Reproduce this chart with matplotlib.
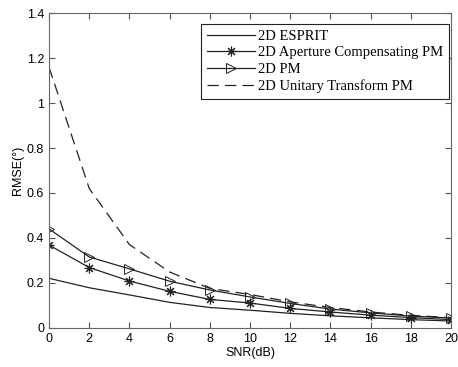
import matplotlib
matplotlib.use("Agg")
import matplotlib.pyplot as plt
import numpy as np

snr = np.arange(0, 21, 2)
esprit = [0.22, 0.178, 0.146, 0.113, 0.09, 0.078, 0.064, 0.053, 0.044, 0.036, 0.03]
apc_pm = [0.368, 0.268, 0.208, 0.162, 0.126, 0.11, 0.086, 0.07, 0.056, 0.045, 0.036]
pm_2d = [0.44, 0.315, 0.262, 0.207, 0.168, 0.137, 0.108, 0.083, 0.066, 0.052, 0.043]
utpm = [1.16, 0.62, 0.37, 0.248, 0.175, 0.148, 0.115, 0.09, 0.07, 0.055, 0.045]
labels = ["2D ESPRIT", "2D Aperture Compensating PM", "2D PM", "2D Unitary Transform PM"]

plt.rcParams['font.family'] = 'Liberation Sans'

fig = plt.figure(figsize=(4.58, 3.67), dpi=100)
ax = fig.add_axes([0.107, 0.107, 0.878, 0.857])

lc = '#222222'
ax.plot(snr, esprit, color=lc, lw=0.9, label=labels[0])
ax.plot(snr, apc_pm, color=lc, lw=0.9, marker=(8, 2, 0), ms=7, mew=0.8, label=labels[1])
ax.plot(snr, pm_2d, color=lc, lw=0.9, marker='>', ms=7, mfc='none', mew=0.7, label=labels[2])
ax.plot(snr, utpm, color=lc, lw=0.9, ls=(0, (9, 5)), label=labels[3])

ax.set_xlim(0, 20)
ax.set_ylim(0, 1.4)
ax.set_xticks(snr)
ax.set_yticks(np.arange(0, 1.41, 0.2))
ax.set_yticklabels(["0", "0.2", "0.4", "0.6", "0.8", "1", "1.2", "1.4"])
ax.tick_params(direction='in', top=True, right=True, labelsize=9, length=4, color='#555555')
for s in ax.spines.values():
    s.set_color('#666666')
ax.set_xlabel("SNR(dB)", fontsize=9, labelpad=2)
ax.set_ylabel("RMSE(°)", fontsize=9, labelpad=2)

leg = ax.legend(loc='upper right', bbox_to_anchor=(0.995, 0.966), prop={'family': 'Liberation Serif', 'size': 10.5},
                fancybox=False, framealpha=1, edgecolor='#222222', handlelength=3.3,
                borderpad=0.4, labelspacing=0.22, handletextpad=0.2, borderaxespad=0)
leg.get_frame().set_linewidth(0.8)

fig.savefig("out.png", dpi=100)
